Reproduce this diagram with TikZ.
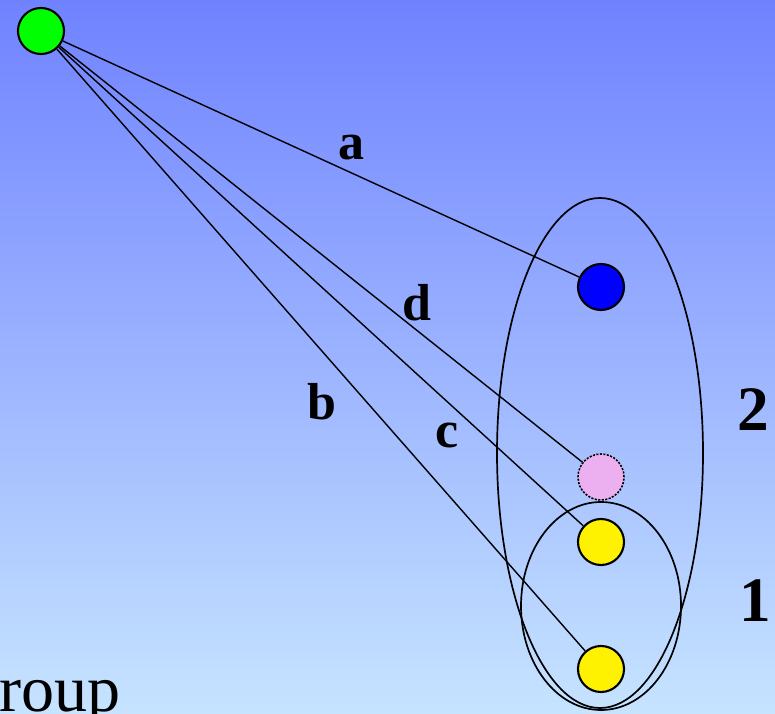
\documentclass[tikz,border=0pt]{standalone}
\usepackage{fontspec}
\setmainfont{Liberation Serif}
\usepackage{tikz}
\usetikzlibrary{positioning}

\definecolor{bgtop}{RGB}{112,130,255}
\definecolor{bgbottom}{RGB}{198,228,255}
\definecolor{lilac}{RGB}{236,176,240}

\begin{document}
\begin{tikzpicture}[
    x=0.025cm, y=-0.025cm,
    vertex/.style={circle, draw, line width=1.5pt, minimum size=1.15cm, inner sep=0pt},
    sender/.style={vertex, fill=green},
    target/.style={vertex, fill=blue},
    member/.style={vertex, fill=yellow},
    ghost/.style={vertex, fill=lilac, densely dotted, line width=1.1pt},
    link/.style={line width=1pt},
    groupring/.style={line width=1.2pt},
    edgelabel/.style={font=\bfseries\fontsize{37}{40}\selectfont, inner sep=0pt},
    grouplabel/.style={font=\bfseries\fontsize{45}{50}\selectfont, inner sep=0pt}
]
    % background
    \useasboundingbox (0,0) rectangle (775,714);
    \clip (0,0) rectangle (775,714);
    \shade[top color=bgtop, bottom color=bgbottom] (0,0) rectangle (775,714);

    % the two groups
    \draw[groupring] (600,453) ellipse [x radius=103, y radius=255];
    \draw[groupring] (601,606) ellipse [x radius=80, y radius=104];

    % nodes
    \node[sender] (s) at (41,31) {};
    \node[target] (n1) at (601,287) {};
    \node[ghost] (n2) at (601,477) {};
    \node[member] (n3) at (601,542) {};
    \node[member] (n4) at (601,669) {};

    % links
    \draw[link] (s) -- (n1);
    \draw[link] (s) -- (n2);
    \draw[link] (s) -- (n3);
    \draw[link] (s) -- (n4);

    % labels
    \node[edgelabel] (la) at (352,148) {a};
    \node[edgelabel] (ld) at (417,303) {d};
    \node[edgelabel] (lb) at (322,402) {b};
    \node[edgelabel] (lc) at (447,435) {c};
    \node[grouplabel] (g2) at (753,410) {2};
    \node[grouplabel] (g1) at (755,601) {1};

    \node[anchor=base west, inner sep=0pt, font=\fontsize{47}{50}\selectfont] (grp) at (-34,711) {group};
\end{tikzpicture}
\end{document}
